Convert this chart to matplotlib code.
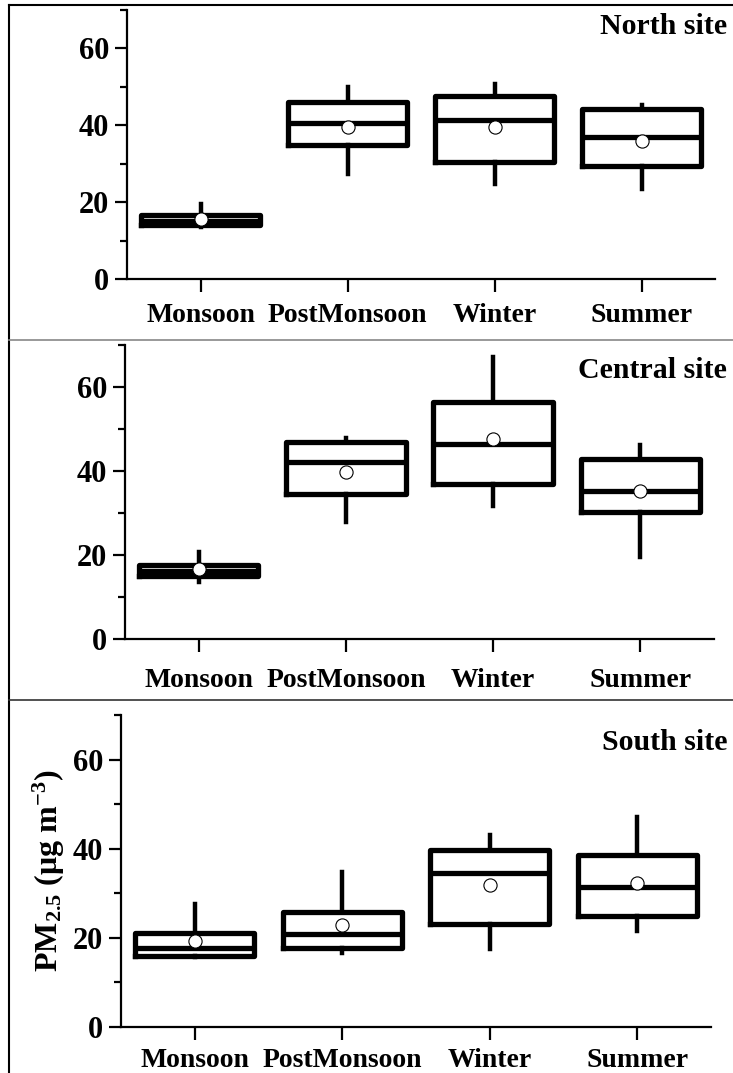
import matplotlib
matplotlib.use("Agg")
import matplotlib.pyplot as plt
from matplotlib.lines import Line2D
from matplotlib.ticker import MultipleLocator

plt.rcParams['font.family'] = ['Liberation Serif', 'DejaVu Serif']
plt.rcParams['font.weight'] = 'bold'
plt.rcParams['mathtext.fontset'] = 'custom'
plt.rcParams['mathtext.rm'] = 'Liberation Serif:bold'
plt.rcParams['mathtext.it'] = 'Liberation Serif:bold:italic'
plt.rcParams['mathtext.bf'] = 'Liberation Serif:bold'

seasons = ["Monsoon", "PostMonsoon", "Winter", "Summer"]

# North site
north_whislo = [13.5, 27.4, 24.7, 23.4]
north_q1 = [14.1, 34.9, 30.5, 29.5]
north_med = [15.0, 40.6, 41.5, 37.0]
north_q3 = [16.7, 46.1, 47.7, 44.3]
north_whishi = [19.5, 50.0, 50.8, 45.4]
north_mean = [15.7, 39.5, 39.6, 35.8]

# Central site
central_whislo = [13.6, 27.9, 31.7, 19.5]
central_q1 = [15.0, 34.5, 36.9, 30.2]
central_med = [16.2, 42.2, 46.4, 35.2]
central_q3 = [17.6, 46.9, 56.4, 42.9]
central_whishi = [20.7, 47.9, 67.1, 46.2]
central_mean = [16.7, 39.8, 47.6, 35.3]

# South site
south_whislo = [15.7, 16.5, 17.4, 21.5]
south_q1 = [15.9, 17.8, 23.1, 24.9]
south_med = [17.8, 20.8, 34.6, 31.5]
south_q3 = [21.1, 25.8, 39.6, 38.7]
south_whishi = [27.7, 34.7, 43.0, 47.2]
south_mean = [19.3, 22.8, 31.9, 32.3]

sites = [
    ("North site", north_whislo, north_q1, north_med, north_q3, north_whishi, north_mean),
    ("Central site", central_whislo, central_q1, central_med, central_q3, central_whishi, central_mean),
    ("South site", south_whislo, south_q1, south_med, south_q3, south_whishi, south_mean),
]

W, H = 733, 1073
fig = plt.figure(figsize=(W / 100, H / 100), dpi=100)

# axes boxes in pixels: left, top, right, bottom
panels = [(127, 10, 715, 279), (125, 345, 714, 639), (121, 715, 711, 1027)]
label_y = [27, 371, 742]
tick_pad = [8, 12, 6]

for i, (name, wlo, q1, med, q3, whi, mn) in enumerate(sites):
    l, t, r, b = panels[i]
    ax = fig.add_axes([l / W, 1 - b / H, (r - l) / W, (b - t) / H])
    stats = []
    for j in range(4):
        stats.append(dict(whislo=wlo[j], q1=q1[j], med=med[j], q3=q3[j],
                          whishi=whi[j], mean=mn[j], fliers=[]))
    ax.bxp(stats, positions=[1, 2, 3, 4], widths=0.81, showcaps=False,
           showmeans=True, showfliers=False,
           boxprops=dict(color='black', linewidth=3.8),
           whiskerprops=dict(color='black', linewidth=3.2),
           medianprops=dict(color='black', linewidth=3.8),
           meanprops=dict(marker='o', markerfacecolor='white', markeredgecolor='black',
                          markersize=9.5, markeredgewidth=0.8))
    ax.set_xlim(0.5, 4.5)
    ax.set_ylim(0, 70)
    ax.yaxis.set_major_locator(MultipleLocator(20))
    ax.yaxis.set_minor_locator(MultipleLocator(10))
    ax.set_xticks([1, 2, 3, 4])
    ax.set_xticklabels(seasons)
    for s in ['top', 'right']:
        ax.spines[s].set_visible(False)
    for s in ['left', 'bottom']:
        ax.spines[s].set_linewidth(1.6)
    ax.tick_params(axis='y', which='major', direction='out', length=9, width=1.6,
                   labelsize=22, pad=4)
    ax.tick_params(axis='y', which='minor', direction='out', length=5, width=1.6)
    ax.tick_params(axis='x', which='major', direction='out', length=9, width=1.6,
                   labelsize=20, pad=tick_pad[i])
    for lab in ax.get_xticklabels() + ax.get_yticklabels():
        lab.set_fontweight('bold')
    fig.text(727 / W, 1 - label_y[i] / H, name, ha='right', va='center',
             fontsize=21.5, fontweight='bold')
    if i == 2:
        ax.set_ylabel(r"PM$_{\mathit{2.5}}$ ($\mathregular{\mu}$g m$^{-3}$)",
                      fontsize=23, fontweight='bold', labelpad=4)

# frame and separators
fig.add_artist(Line2D([9 / W, 1], [1 - 5 / H, 1 - 5 / H], transform=fig.transFigure,
                      color='black', linewidth=1.5))
fig.add_artist(Line2D([9 / W, 9 / W], [0, 1 - 5 / H], transform=fig.transFigure,
                      color='black', linewidth=1.5))
fig.add_artist(Line2D([9 / W, 1], [1 - 340 / H, 1 - 340 / H], transform=fig.transFigure,
                      color='#888888', linewidth=1.2))
fig.add_artist(Line2D([9 / W, 1], [1 - 700 / H, 1 - 700 / H], transform=fig.transFigure,
                      color='#333333', linewidth=1.2))

fig.savefig("out.png", dpi=100)
